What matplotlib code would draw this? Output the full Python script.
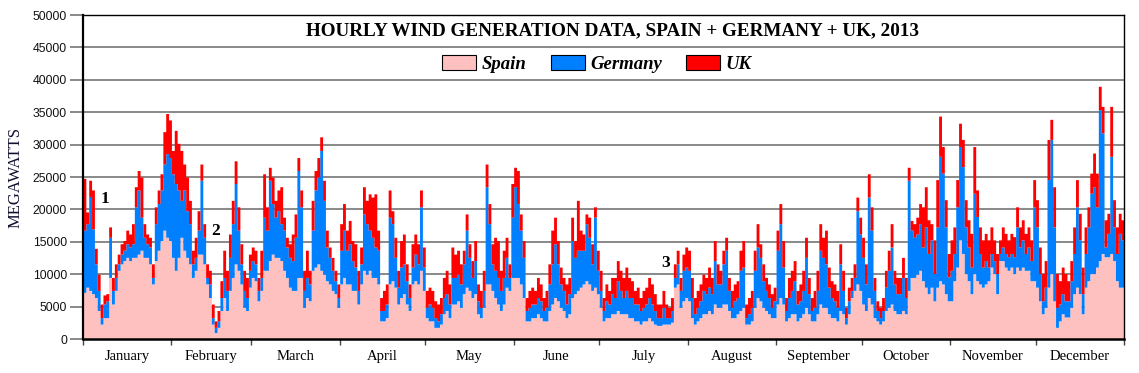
import numpy as np
import matplotlib
matplotlib.use("Agg")
import matplotlib.pyplot as plt
from matplotlib.patches import Patch

# ---- data (daily readings of hourly chart, MW) ----
months = ["January", "February", "March", "April", "May", "June", "July",
          "August", "September", "October", "November", "December"]
month_days = [31, 28, 31, 30, 31, 30, 31, 31, 30, 31, 30, 31]
yticks = [0, 5000, 10000, 15000, 20000, 25000, 30000, 35000, 40000, 45000, 50000]

spain = [
 7200, 8000, 7500, 7000, 6400, 4400, 2300, 3300, 3300, 9500, 5400, 7500, 10600, 11600, 12100, 12600,
 12100, 12600, 12600, 13100, 13700, 12600, 12600, 11600, 8500, 12100, 13700, 15200, 16800, 15700, 15200,
 12600, 10600, 12600, 15700, 13700, 12600, 11600, 9500, 10600, 13100, 13100, 11600, 8500, 6400, 2300,
 1000, 1800, 4400, 6400, 4400, 7500, 9500, 11600, 10600, 8500, 4900, 4400, 8000, 9500,
 9000, 5900, 7500, 10600, 10600, 12100, 13100, 12600, 12600, 12100, 10600, 9500, 8000, 7500, 7500, 9500,
 9500, 4900, 6400, 5900, 10600, 11100, 11600, 10600, 10000, 9000, 8500, 7500, 7000, 4900,
 8500, 9500, 8500, 8500, 7500, 7500, 5400, 8500, 10600, 10000, 10600, 9500, 9500, 8500, 2800, 2800,
 3300, 8500, 9000, 8000, 5400, 6400, 7000, 5400, 4400, 8500, 9000, 8500, 10600, 7500, 3300,
 2800, 2800, 1800, 1800, 2300, 3900, 4400, 3300, 5400, 5400, 5900, 4900, 7000, 8000, 7500, 6400, 7000,
 3900, 3300, 4900, 8500, 8500, 7500, 6400, 5400, 4400, 5400, 8000, 7500, 9500, 9500,
 9500, 8500, 6400, 2800, 2800, 3300, 3300, 3900, 3300, 2800, 2800, 4400, 5400, 6400, 5900, 4900, 4400,
 3300, 3900, 6400, 7000, 7500, 8000, 8500, 9000, 8500, 7500, 8000, 7000, 4900,
 2800, 3300, 3300, 3900, 3900, 4400, 3900, 3900, 3900, 3300, 3300, 2800, 2800, 2300, 2800, 2800, 3300,
 2800, 2300, 2100, 2100, 2300, 2300, 2300, 2600, 8000, 8500, 4900, 5900, 6400, 5900,
 3300, 2300, 2800, 3300, 3900, 3900, 4400, 3900, 5400, 4900, 4900, 5400, 5400, 4400, 3300, 3300, 3900,
 4400, 4900, 2300, 2300, 2800, 4900, 6400, 5900, 4900, 4400, 3900, 3300, 3300,
 5400, 6400, 5400, 2800, 3300, 3900, 3900, 2800, 3300, 3900, 4900, 3900, 2800, 2800, 3900, 5400, 4900,
 4900, 3900, 3300, 3300, 2800, 4400, 3900, 2300, 3900, 6400, 7500,
 8500, 7500, 5400, 4400, 6400, 5400, 3300, 2800, 2300, 2800, 4400, 4900, 5400, 4400, 3900, 3900, 4400,
 3900, 7500, 9500, 9500, 10000, 10600, 9000, 8000, 7000, 8000, 5900, 8000, 9000, 8500, 7000, 5900,
 5900, 9000, 11100, 15300, 13200, 10100, 9000, 7000, 10100, 9000, 8500, 8000, 8500, 9000, 11100, 10100,
 7000, 12100, 12100, 11100, 10600, 11100, 10100, 11100, 10600, 11100, 10600, 10600, 9000, 9000, 8000,
 5900, 3900, 4900, 8000, 10100, 5900, 1800, 2800, 3900, 3400, 3400, 4900, 7000, 8000, 7000, 3900, 8000,
 9000, 10100, 10100, 11100, 12100, 13200, 12700, 12700, 13200, 12100, 9000, 8000, 8000]

germany = [
 9600, 9800, 14500, 10000, 5200, 3100, 1000, 2100, 2600, 6200, 2100, 2000, 1000, 1500, 1600, 2100,
 2100, 2100, 7800, 9900, 5100, 3100, 2100, 2600, 1000, 5700, 7200, 7800, 10200, 12900, 12800,
 12900, 13400, 10400, 5700, 9300, 7200, 6200, 2100, 2000, 3700, 11400, 4100, 1000, 2100, 1000,
 800, 1000, 2000, 3100, 3100, 5100, 8300, 12400, 6200, 3100, 2600, 2000, 2600, 2600,
 2600, 1600, 2000, 8200, 6200, 12400, 7800, 6200, 7200, 5700, 6200, 4700, 4600, 4600, 8200, 16500,
 10900, 2600, 3100, 2600, 6200, 11900, 13400, 18500, 11400, 5200, 4100, 3100, 2000, 1500,
 5200, 7300, 5200, 6200, 4600, 3600, 2100, 3100, 8700, 7800, 6200, 6200, 4700, 5200, 1600, 1600,
 2100, 10300, 8800, 4600, 2600, 4700, 4600, 3600, 2000, 2600, 4100, 3100, 9800, 3600, 1600,
 2600, 2100, 1500, 1000, 1600, 2500, 2600, 2100, 4100, 4100, 4100, 3600, 4600, 8800, 5100, 3100, 5100,
 2000, 1600, 2600, 15000, 9300, 4100, 4200, 4100, 3100, 4100, 4600, 2000, 9300, 14000,
 11400, 8300, 6200, 1600, 2100, 2100, 2100, 2500, 2600, 1600, 2100, 4100, 6200, 8300, 5700, 3600, 3100,
 2100, 3100, 8800, 5600, 6200, 5700, 5200, 8800, 7200, 4100, 10800, 3600, 2600,
 1600, 2600, 2100, 3100, 2500, 4600, 3600, 2500, 3600, 3100, 3100, 2600, 2600, 2100, 2100, 2600, 3100,
 2600, 2100, 1200, 1200, 2600, 1000, 1000, 1800, 1500, 3100, 2600, 4700, 4700, 4700,
 3100, 1600, 2100, 2600, 3600, 3100, 3600, 3100, 6700, 3600, 3600, 6200, 8300, 3100, 1600, 2600, 2500,
 6200, 6200, 1000, 1600, 2100, 5700, 7800, 6700, 4100, 3100, 2500, 1600, 2600,
 8300, 11400, 5700, 1600, 3100, 3600, 5100, 2600, 2600, 3600, 7700, 3100, 1600, 2100, 3600, 8300, 7700,
 6700, 4100, 3100, 2600, 2100, 7200, 3600, 1000, 2000, 1100, 2000,
 11300, 8700, 7200, 4100, 15500, 11400, 4200, 1600, 1000, 1600, 3600, 5700, 8800, 4100, 3100, 3100, 5100,
 2500, 17000, 7300, 6200, 6200, 7200, 5200, 9300, 6200, 7300, 4200, 9300, 19200, 17100, 10300, 3700,
 4700, 4200, 9300, 14400, 13400, 7200, 5200, 4100, 12400, 9900, 4700, 3100, 3600, 2100, 2100, 2000,
 3100, 1100, 2100, 2100, 2100, 2100, 2600, 6200, 3600, 4200, 2600, 3600, 3100, 11400, 9300,
 4200, 2000, 3100, 16600, 20700, 11400, 3100, 2600, 3100, 2500, 2500, 4100, 6200, 12400, 8300, 3100, 5200,
 8300, 12400, 13400, 9300, 23300, 18600, 1500, 3600, 15000, 5200, 4200, 8300, 7300]

uk = [
 8000, 1800, 2500, 6000, 2400, 2500, 2100, 1400, 1100, 1600, 2000, 2100, 1500, 1600, 1500, 2100,
 2000, 3100, 3100, 3000, 6200, 2100, 1500, 1500, 2100, 2600, 2100, 2500, 5000, 6200, 5800,
 3600, 8200, 7200, 7700, 4000, 5200, 3600, 2100, 3100, 3000, 2500, 2100, 2100, 2100, 2100,
 1000, 1600, 2600, 4200, 3100, 3600, 3600, 3500, 3600, 3100, 3100, 3100, 2500, 2100,
 2100, 2000, 4200, 6700, 3600, 2000, 4100, 2600, 3200, 5700, 2000, 1500, 2100, 4100, 3600, 2000,
 2600, 3100, 4200, 2100, 4600, 3000, 3000, 2100, 3100, 2600, 1600, 2000, 1600, 2100,
 4100, 4100, 3100, 3600, 3100, 3600, 3100, 2600, 4200, 3600, 5600, 6200, 8200, 3100, 2000, 3100,
 3100, 4200, 2000, 3100, 2600, 4100, 4600, 2600, 2100, 3600, 3100, 3100, 2600, 3100, 2600,
 2600, 2600, 2600, 2600, 2500, 3100, 3600, 3100, 4700, 3600, 3700, 3100, 2100, 2500, 2100, 2600, 3100,
 2600, 2600, 3100, 3500, 3100, 3100, 5100, 5700, 3100, 4200, 3100, 2100, 5200, 3000,
 5100, 2500, 2600, 2000, 2600, 2600, 2100, 3100, 2600, 2000, 2600, 3100, 5200, 4100, 3600, 2600, 2000,
 3100, 2500, 3600, 2600, 7700, 3100, 2500, 1500, 3100, 3100, 1600, 3100, 3100,
 2000, 2600, 2100, 2500, 3100, 3100, 3100, 3100, 3600, 3100, 2600, 2100, 2600, 2000, 2600, 2600, 3100,
 3100, 2600, 2100, 2100, 2600, 2100, 1600, 2000, 2100, 2100, 2000, 2500, 3100, 3100,
 3100, 2500, 2600, 2600, 2500, 2500, 3100, 2500, 3100, 3100, 2100, 2100, 2000, 2000, 2600, 2600, 2600,
 3100, 4100, 2100, 2500, 2600, 3100, 3600, 2100, 2600, 2000, 2100, 2100, 2100,
 3100, 3100, 4100, 2000, 3100, 3100, 3100, 2100, 2600, 3100, 3100, 2500, 2000, 2600, 3100, 4100, 3100,
 5200, 3100, 2600, 2600, 2600, 3100, 3100, 1600, 2100, 2000, 2100,
 2100, 2600, 3100, 3100, 3600, 3600, 2000, 1500, 1600, 2000, 2600, 3100, 3600, 2100, 2500, 2500, 3100,
 3100, 2000, 1500, 2100, 2600, 3100, 6200, 6200, 5200, 2500, 5200, 7300, 6200, 4100, 4200, 3600,
 4700, 4100, 4200, 3600, 4200, 4200, 4200, 5200, 7200, 4100, 4100, 4200, 4200, 4200, 4100, 3200,
 3100, 2100, 3100, 3100, 2600, 3100, 3100, 3100, 3100, 3100, 3100, 3100, 3200, 4200, 4200,
 4100, 4200, 4100, 6200, 3100, 6200, 5200, 3600, 4100, 4200, 3100, 3100, 4100, 4200, 4100, 4100, 4100,
 3100, 3100, 5200, 5200, 3600, 4100, 4200, 3100, 7700, 4200, 4100, 3100, 3100]

annotations = [("1", 7.7, 21600), ("2", 46.6, 16700), ("3", 204.3, 11700)]

# ---- style ----
c_spain, c_germany, c_uk = "#FFC0C0", "#0080FF", "#FF0000"
serif = ["Liberation Serif", "DejaVu Serif"]
sans = ["Liberation Sans", "DejaVu Sans"]

fig = plt.figure(figsize=(11.39, 3.73), dpi=100)
ax = fig.add_axes([83/1139, 1 - 339/373, (1124 - 83)/1139, (339 - 15)/373])

s = np.array(spain, float)
g = np.array(germany, float)
u = np.array(uk, float)
n = len(s)
x = np.arange(n) + 0.5
xe = np.r_[0, x, n]
pad = lambda a: np.r_[a[0], a, a[-1]]
lvl1 = pad(s)
lvl2 = pad(s + g)
lvl3 = pad(s + g + u)

ax.fill_between(xe, 0, lvl1, color=c_spain, lw=0, zorder=2, step="mid")
ax.fill_between(xe, lvl1, lvl2, color=c_germany, lw=0, zorder=2, step="mid")
ax.fill_between(xe, lvl2, lvl3, color=c_uk, lw=0, zorder=2, step="mid")

ax.set_xlim(0, n)
ax.set_ylim(0, 50000)

# grid & y ticks
ax.set_yticks(yticks)
ax.set_yticklabels([str(v) for v in yticks], fontfamily=sans, fontsize=8.8)
ax.yaxis.grid(True, color="#808080", lw=1.3, zorder=0)
ax.set_axisbelow(True)
ax.tick_params(axis="y", length=9.5, width=1.3, color="#808080", pad=2, labelcolor="#111111")

# x ticks: boundaries + month labels at midpoints
bounds = np.r_[0, np.cumsum(month_days)]
mids = (bounds[:-1] + bounds[1:]) / 2
ax.set_xticks(bounds)
ax.set_xticklabels([])
ax.set_xticks(mids, minor=True)
ax.set_xticklabels(months, minor=True, fontfamily=serif, fontsize=10.5)
ax.tick_params(axis="x", which="major", length=4, width=1, color="#444444")
ax.tick_params(axis="x", which="minor", length=0, pad=8)

for sp in ["left", "top", "right"]:
    ax.spines[sp].set_color("black")
    ax.spines[sp].set_linewidth(1.0)
ax.spines["bottom"].set_linewidth(1.8)
ax.spines["left"].set_linewidth(1.6)
for sp in ax.spines.values():
    sp.set_zorder(5)

ax.set_ylabel("MEGAWATTS", fontfamily=serif, fontsize=12, labelpad=7, color="#101030")

# title
fig.text(612/1139, 1 - 31/373, "HOURLY WIND GENERATION DATA, SPAIN + GERMANY + UK, 2013",
         ha="center", va="center", fontfamily=serif, fontweight="bold", fontsize=13.8)

# legend
handles = [Patch(facecolor=c_spain, edgecolor="black", lw=0.8),
           Patch(facecolor=c_germany, edgecolor="black", lw=0.8),
           Patch(facecolor=c_uk, edgecolor="black", lw=0.8)]
leg = fig.legend(handles, ["Spain", "Germany", "UK"], loc="center",
                 bbox_to_anchor=(597/1139, 1 - 64/373), ncol=3, frameon=False,
                 prop={"family": serif, "weight": "bold", "style": "italic", "size": 13.5},
                 handlelength=1.8, handleheight=0.8, handletextpad=0.3,
                 columnspacing=1.3, borderaxespad=0)

for t, dx, dy in annotations:
    ax.text(dx, dy, t, fontfamily=serif, fontweight="bold", fontsize=12.5,
            ha="center", va="center", zorder=6)

fig.savefig("out.png", dpi=100)
